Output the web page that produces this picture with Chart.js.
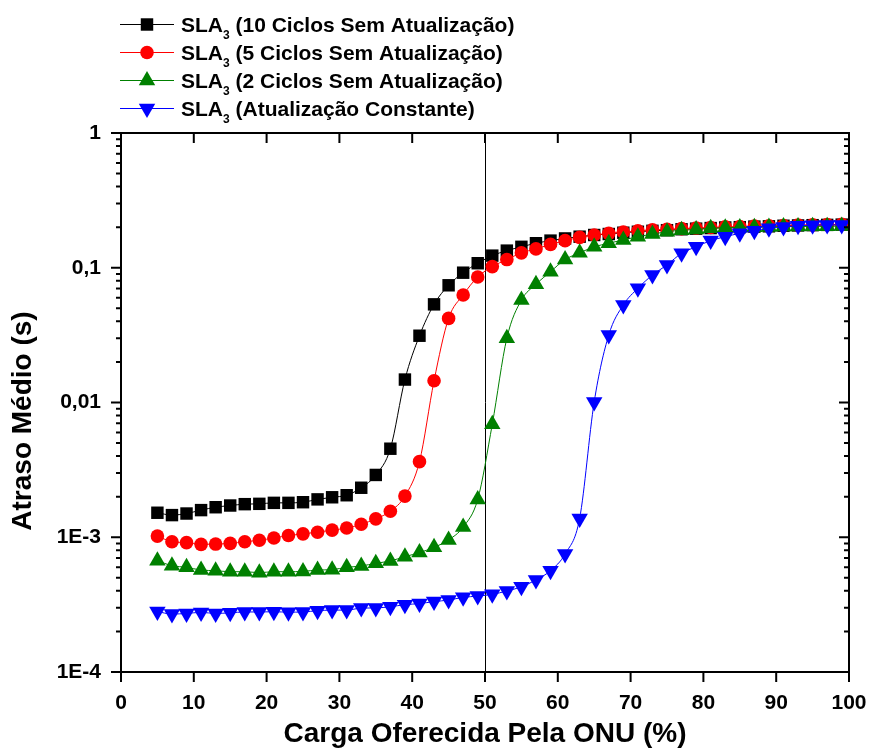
<!DOCTYPE html>
<html>
<head>
<meta charset="utf-8">
<script src="https://cdn.jsdelivr.net/npm/chart.js@4.4.1/dist/chart.umd.min.js"></script>
<style>
  html, body { margin: 0; padding: 0; background: #ffffff; }
  canvas { display: block; }
</style>
</head>
<body>
<canvas id="grafico" width="871" height="749"></canvas>
<script>
// Carga oferecida pela ONU (%)
const carga = [5, 7, 9, 11, 13, 15, 17, 19, 21, 23, 25, 27, 29, 31, 33, 35, 37, 39, 41, 43, 45, 47, 49,
               51, 53, 55, 57, 59, 61, 63, 65, 67, 69, 71, 73, 75, 77, 79, 81, 83, 85, 87, 89, 91, 93, 95, 97, 99];

// Atraso médio (s) para cada cenário
const atraso10Ciclos = [1.52e-3, 1.46e-3, 1.50e-3, 1.59e-3, 1.67e-3, 1.72e-3, 1.76e-3, 1.77e-3, 1.80e-3, 1.80e-3,
  1.82e-3, 1.91e-3, 1.98e-3, 2.05e-3, 2.33e-3, 2.90e-3, 4.54e-3, 0.0148, 0.0313, 0.0535, 0.0741, 0.0919, 0.108,
  0.123, 0.134, 0.143, 0.152, 0.159, 0.165, 0.170, 0.175, 0.178, 0.182, 0.185, 0.188, 0.190, 0.193, 0.195, 0.197,
  0.199, 0.200, 0.202, 0.203, 0.205, 0.206, 0.207, 0.208, 0.209];

const atraso5Ciclos = [1.02e-3, 0.927e-3, 0.912e-3, 0.886e-3, 0.890e-3, 0.900e-3, 0.927e-3, 0.949e-3, 0.987e-3, 1.03e-3,
  1.06e-3, 1.09e-3, 1.13e-3, 1.17e-3, 1.25e-3, 1.37e-3, 1.56e-3, 2.02e-3, 3.64e-3, 0.0145, 0.0421, 0.0628, 0.0854,
  0.102, 0.115, 0.129, 0.138, 0.149, 0.159, 0.168, 0.175, 0.180, 0.184, 0.188, 0.191, 0.193, 0.195, 0.197, 0.199,
  0.201, 0.202, 0.204, 0.205, 0.206, 0.207, 0.208, 0.209, 0.210];

const atraso2Ciclos = [0.670e-3, 0.615e-3, 0.598e-3, 0.571e-3, 0.565e-3, 0.555e-3, 0.555e-3, 0.546e-3, 0.555e-3, 0.555e-3,
  0.558e-3, 0.571e-3, 0.575e-3, 0.598e-3, 0.612e-3, 0.641e-3, 0.667e-3, 0.718e-3, 0.769e-3, 0.842e-3, 0.955e-3, 1.19e-3, 1.91e-3,
  6.9e-3, 0.030, 0.0576, 0.0754, 0.0935, 0.115, 0.129, 0.143, 0.152, 0.161, 0.170, 0.178, 0.185, 0.190, 0.192, 0.196,
  0.198, 0.199, 0.200, 0.201, 0.202, 0.202, 0.203, 0.203, 0.204];

const atrasoConstante = [2.81e-4, 2.69e-4, 2.72e-4, 2.77e-4, 2.72e-4, 2.75e-4, 2.79e-4, 2.79e-4, 2.80e-4, 2.78e-4,
  2.79e-4, 2.85e-4, 2.88e-4, 2.88e-4, 2.98e-4, 2.99e-4, 3.05e-4, 3.16e-4, 3.22e-4, 3.33e-4, 3.42e-4, 3.58e-4, 3.66e-4,
  3.77e-4, 3.99e-4, 4.29e-4, 4.82e-4, 5.65e-4, 7.51e-4, 1.38e-3, 0.0101, 0.0317, 0.053, 0.0704, 0.0883, 0.105, 0.128,
  0.143, 0.159, 0.170, 0.180, 0.188, 0.196, 0.201, 0.205, 0.207, 0.208, 0.208];

// Rótulos dos eixos
const yTickValues = [1e-4, 1e-3, 1e-2, 1e-1, 1];
const yTickLabels = ['1E-4', '1E-3', '0,01', '0,1', '1'];
const xMin = 0, xMax = 100, xStep = 10;
const cargaReferencia = 50;

// Legenda: "SLA" + índice "3" + descrição
const nomeBase = 'SLA';
const nomeIndice = '3';
const nomeDescricao = ['(10 Ciclos Sem Atualização)', '(5 Ciclos Sem Atualização)',
                       '(2 Ciclos Sem Atualização)', '(Atualização Constante)'];
const tituloX = 'Carga Oferecida Pela ONU (%)';
const tituloY = 'Atraso Médio (s)';

const FONTE = '"Liberation Sans", Arial, Helvetica, sans-serif';
const cores = ['#000000', '#ff0000', '#008000', '#0000ff'];
const marcadores = [
  { pointStyle: 'rect', radius: 8.8, rotation: 0 },
  { pointStyle: 'circle', radius: 6.8, rotation: 0 },
  { pointStyle: 'triangle', radius: 9.5, rotation: 0 },
  { pointStyle: 'triangle', radius: 9.5, rotation: 180 }
];
const series = [atraso10Ciclos, atraso5Ciclos, atraso2Ciclos, atrasoConstante];

const datasets = series.map((valores, i) => ({
  label: nomeBase + nomeIndice + ' ' + nomeDescricao[i],
  data: carga.map((x, k) => ({ x: x, y: valores[k] })),
  borderColor: cores[i],
  backgroundColor: cores[i],
  borderWidth: 1,
  pointStyle: marcadores[i].pointStyle,
  pointRadius: marcadores[i].radius,
  pointHoverRadius: marcadores[i].radius,
  pointRotation: marcadores[i].rotation,
  pointBackgroundColor: cores[i],
  pointBorderColor: cores[i],
  pointBorderWidth: 0,
  cubicInterpolationMode: 'monotone',
  order: series.length - 1 - i
}));

// Moldura, marcas dos eixos, linha vertical de referência, título Y e legenda
const moldura = {
  id: 'moldura',
  beforeDatasetsDraw(chart) {
    const { ctx, chartArea: a, scales: { x } } = chart;
    const px = Math.round(x.getPixelForValue(cargaReferencia)) + 0.5;
    ctx.save();
    ctx.strokeStyle = '#000';
    ctx.lineWidth = 1;
    ctx.beginPath();
    ctx.moveTo(px, a.top);
    ctx.lineTo(px, a.bottom);
    ctx.stroke();
    ctx.restore();
  },
  afterDraw(chart) {
    const { ctx, chartArea: a, scales: { x, y } } = chart;
    ctx.save();
    ctx.strokeStyle = '#000';
    ctx.lineWidth = 2;
    ctx.strokeRect(a.left, a.top, a.right - a.left, a.bottom - a.top);

    ctx.beginPath();
    // eixo X: marcas para fora embaixo, para dentro em cima
    for (let v = xMin; v <= xMax; v += xStep) {
      const px = x.getPixelForValue(v);
      ctx.moveTo(px, a.bottom); ctx.lineTo(px, a.bottom + 10);
      ctx.moveTo(px, a.top); ctx.lineTo(px, a.top + 10);
    }
    // eixo Y logarítmico: marcas maiores nas décadas, menores em 2..9
    for (let e = -4; e <= 0; e++) {
      const dec = Math.pow(10, e);
      const py = y.getPixelForValue(dec);
      ctx.moveTo(a.left - 10, py); ctx.lineTo(a.left, py);
      ctx.moveTo(a.right - 10, py); ctx.lineTo(a.right, py);
      if (e < 0) {
        for (let m = 2; m <= 9; m++) {
          const pm = y.getPixelForValue(m * dec);
          ctx.moveTo(a.left - 5, pm); ctx.lineTo(a.left, pm);
          ctx.moveTo(a.right - 5, pm); ctx.lineTo(a.right, pm);
        }
      }
    }
    ctx.stroke();

    // título do eixo Y
    ctx.fillStyle = '#000';
    ctx.font = 'bold 28px ' + FONTE;
    ctx.textAlign = 'center';
    ctx.textBaseline = 'middle';
    ctx.translate(23, 421);
    ctx.rotate(-Math.PI / 2);
    ctx.fillText(tituloY, 0, 0);
    ctx.setTransform(1, 0, 0, 1, 0, 0);

    // legenda
    ctx.textAlign = 'left';
    ctx.textBaseline = 'alphabetic';
    chart.data.datasets.forEach((ds, i) => {
      const ly = 24 + 28 * i;
      ctx.strokeStyle = cores[i];
      ctx.lineWidth = 1;
      ctx.beginPath();
      ctx.moveTo(120, ly + 0.5);
      ctx.lineTo(174, ly + 0.5);
      ctx.stroke();
      ctx.fillStyle = cores[i];
      Chart.helpers.drawPoint(ctx, {
        pointStyle: marcadores[i].pointStyle,
        radius: marcadores[i].radius,
        rotation: marcadores[i].rotation,
        borderWidth: 0
      }, 147, ly + 0.5);

      ctx.fillStyle = '#000';
      const base = ly + 8;
      let tx = 181;
      ctx.font = 'bold 21px ' + FONTE;
      ctx.fillText(nomeBase, tx, base);
      tx += ctx.measureText(nomeBase).width;
      ctx.font = 'bold 12px ' + FONTE;
      ctx.fillText(nomeIndice, tx, base + 6.5);
      tx += ctx.measureText(nomeIndice).width;
      ctx.font = 'bold 21px ' + FONTE;
      tx += ctx.measureText(' ').width;
      ctx.fillText(nomeDescricao[i], tx, base);
    });
    ctx.restore();
  }
};

Chart.defaults.font.family = FONTE;
Chart.defaults.color = '#000';

new Chart(document.getElementById('grafico'), {
  type: 'line',
  data: { datasets: datasets },
  options: {
    responsive: false,
    animation: false,
    devicePixelRatio: 1,
    layout: { padding: { top: 133, right: 22, left: 0, bottom: 0 } },
    plugins: { legend: { display: false }, tooltip: { enabled: false } },
    scales: {
      x: {
        type: 'linear',
        min: xMin,
        max: xMax,
        grid: { display: false, drawTicks: false },
        border: { display: false },
        ticks: {
          stepSize: xStep,
          autoSkip: false,
          maxRotation: 0,
          padding: 19,
          color: '#000',
          font: { size: 21, weight: 'bold' }
        },
        title: {
          display: true,
          text: tituloX,
          color: '#000',
          font: { size: 28, weight: 'bold', lineHeight: 1 },
          padding: { top: 0, bottom: 1 }
        },
        afterFit(s) {
          s.height = 77;
          s.paddingLeft = 0;
          s.paddingRight = 0;
        }
      },
      y: {
        type: 'logarithmic',
        min: yTickValues[0],
        max: yTickValues[yTickValues.length - 1],
        grid: { display: false, drawTicks: false },
        border: { display: false },
        afterBuildTicks(s) { s.ticks = yTickValues.map(v => ({ value: v })); },
        ticks: {
          autoSkip: false,
          padding: 20,
          color: '#000',
          font: { size: 21, weight: 'bold' },
          callback(value, index) { return yTickLabels[index]; }
        },
        afterFit(s) {
          s.width = 121;
          s.paddingTop = 0;
          s.paddingBottom = 0;
        }
      }
    }
  },
  plugins: [moldura]
});
</script>
</body>
</html>
